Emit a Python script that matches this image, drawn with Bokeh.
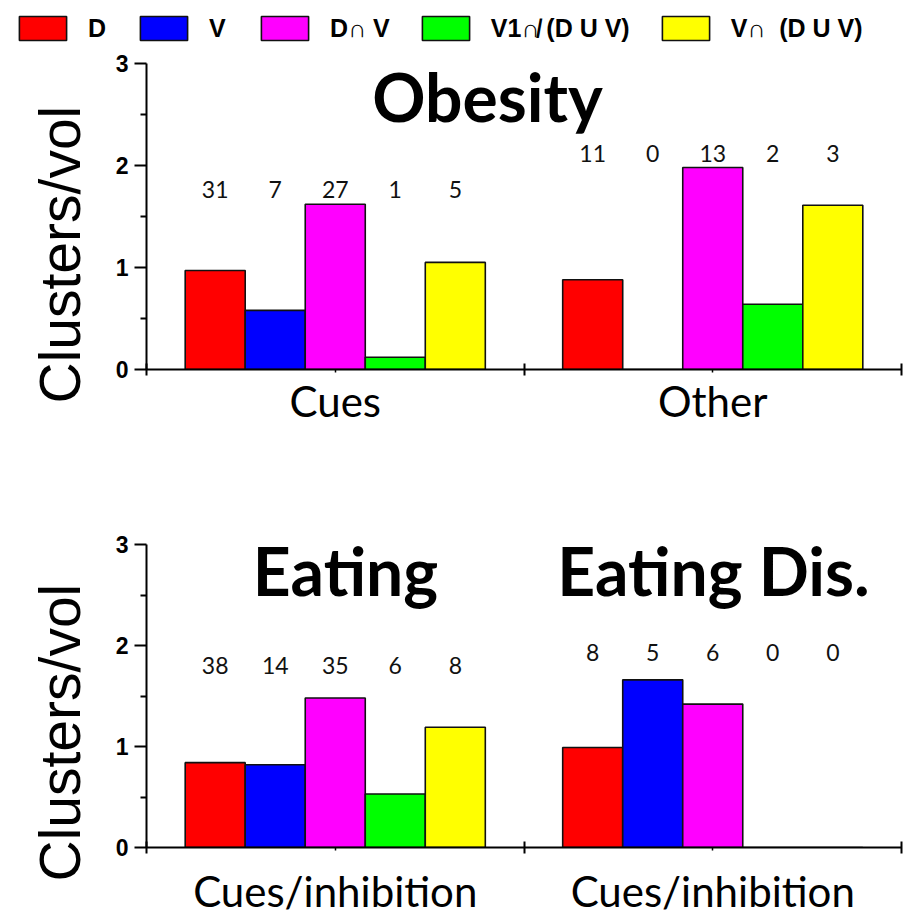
from bokeh.plotting import figure
from bokeh.models import Range1d, FixedTicker, Label, Legend, LegendItem, LinearAxis, Title
from bokeh.layouts import column
from bokeh.embed import file_html
from bokeh.resources import INLINE
from bokeh.core.properties import value

# ---------------- data ----------------
series_names = ["D", "V", "D\u2229 V", "V1\u2229\u0338 (D U V)", "V\u2229  (D U V)"]
series_colors = ["#FF0000", "#0000FF", "#FF00FF", "#00FF00", "#FFFF00"]

# top panel: Obesity
top_groups = ["Cues", "Other"]
top_D = [0.97, 0.88]
top_V = [0.58, 0.0]
top_DV = [1.62, 1.98]
top_V1 = [0.12, 0.64]
top_Vn = [1.05, 1.61]
top_n_D = [31, 11]
top_n_V = [7, 0]
top_n_DV = [27, 13]
top_n_V1 = [1, 2]
top_n_Vn = [5, 3]

# bottom panel: Eating / Eating Dis.
bot_groups = ["Cues/inhibition", "Cues/inhibition"]
bot_D = [0.84, 0.99]
bot_V = [0.82, 1.66]
bot_DV = [1.48, 1.42]
bot_V1 = [0.53, 0.0]
bot_Vn = [1.19, 0.0]
bot_n_D = [38, 8]
bot_n_V = [14, 5]
bot_n_DV = [35, 6]
bot_n_V1 = [6, 0]
bot_n_Vn = [8, 0]

y_ticks = [0, 1, 2, 3]
y_label = "Clusters/vol"

# ---------------- style ----------------
BAR_W = 0.159
NUM_FONT = "Lato"
FIG_W = 903
BAR_LINE = "#111111"


def bar_x(k, n):
    return [g + 0.5 + (k - 2) * BAR_W for g in range(n)]


def make_legend_fig(vals):
    # legend strip; swatches taken from the top-panel series renderers (hidden here)
    p = figure(width=FIG_W, height=44, x_range=Range1d(0, 2), y_range=Range1d(0, 3),
               output_backend="svg", toolbar_location=None, title=None,
               x_axis_type=None, y_axis_type=None,
               min_border_left=0, min_border_right=0, min_border_top=0, min_border_bottom=0)
    p.frame_align = False
    p.outline_line_color = None
    p.xgrid.visible = False
    p.ygrid.visible = False
    rs = []
    for k, (v, c) in enumerate(zip(vals, series_colors)):
        r = p.vbar(x=bar_x(k, len(v)), top=v, bottom=0, width=BAR_W, fill_color=c,
                   line_color=BAR_LINE, line_width=1.6)
        r.visible = False
        rs.append(r)
    items = [LegendItem(label=nm, renderers=[r]) for nm, r in zip(series_names, rs)]
    lg = Legend(items=items, orientation="horizontal", location=(13, 1),
                glyph_width=59, glyph_height=30, label_standoff=16, spacing=26,
                padding=0, margin=0, border_line_alpha=0, background_fill_alpha=0,
                inactive_fill_alpha=0,
                label_text_font="Liberation Sans", label_text_font_style="bold",
                label_text_font_size="25px", label_text_color="black")
    p.add_layout(lg)
    return p


def make_panel(groups, vals, counts, count_y, titles, height, b_top, b_bottom,
               group_standoff):
    p = figure(width=FIG_W, height=height, x_range=Range1d(0, 2), y_range=Range1d(0, 3),
               output_backend="svg", toolbar_location=None, title=None,
               x_axis_type=None, y_axis_type=None,
               min_border_left=146, min_border_right=2,
               min_border_top=b_top, min_border_bottom=b_bottom)
    p.outline_line_color = None
    p.xgrid.visible = False
    p.ygrid.visible = False

    yax = LinearAxis(ticker=FixedTicker(ticks=y_ticks, minor_ticks=[0.5, 1.5, 2.5]))
    yax.axis_line_width = 2
    yax.major_tick_line_width = 2
    yax.minor_tick_line_width = 2
    yax.major_tick_in = 0
    yax.major_tick_out = 12
    yax.minor_tick_in = 0
    yax.minor_tick_out = 6
    yax.major_label_standoff = 6
    yax.major_label_text_font = "Liberation Sans"
    yax.major_label_text_font_style = "bold"
    yax.major_label_text_font_size = "23px"
    yax.major_label_text_color = "black"
    p.add_layout(yax, "left")

    n = len(groups)
    centers = [g + 0.5 for g in range(n)]
    xax = LinearAxis(ticker=FixedTicker(ticks=centers, minor_ticks=list(range(n + 1))))
    xax.axis_line_width = 2
    xax.major_tick_line_width = 1.5
    xax.minor_tick_line_width = 2
    xax.major_tick_in = 0
    xax.major_tick_out = 3
    xax.minor_tick_in = 6
    xax.minor_tick_out = 6
    xax.major_label_overrides = {c: name for c, name in zip(centers, groups)}
    xax.major_label_standoff = group_standoff
    xax.major_label_text_font = NUM_FONT
    xax.major_label_text_font_size = "42px"
    xax.major_label_text_color = "black"
    p.add_layout(xax, "below")

    p.add_layout(Title(text=y_label, align="left", offset=-34, vertical_align="bottom",
                       standoff=42, text_font="Liberation Sans", text_font_style="normal",
                       text_font_size="57px", text_color="black"), "left")

    for k, (v, c) in enumerate(zip(vals, series_colors)):
        xs = bar_x(k, n)
        p.vbar(x=xs, top=v, width=BAR_W, bottom=0, fill_color=c,
               line_color=BAR_LINE, line_width=1.6)
        p.text(x=xs, y=count_y, text=[str(t) for t in counts[k]],
               text_font=value(NUM_FONT), text_font_size="23px",
               text_align="center", text_baseline="middle", text_color="#111111")

    for (tx, ty, t) in titles:
        p.add_layout(Label(x=tx, y=ty, x_units="screen", y_units="screen", text=t,
                           text_font=NUM_FONT, text_font_style="bold",
                           text_font_size="66px", text_align="center",
                           text_baseline="alphabetic", text_color="black"))
    return p


top_vals = [top_D, top_V, top_DV, top_V1, top_Vn]
legend_fig = make_legend_fig(top_vals)

top = make_panel(top_groups, top_vals,
                 [top_n_D, top_n_V, top_n_DV, top_n_V1, top_n_Vn],
                 [1.76, 2.12],
                 [(341, 273, "Obesity")],
                 428, 19, 103, 0)

bot = make_panel(bot_groups,
                 [bot_D, bot_V, bot_DV, bot_V1, bot_Vn],
                 [bot_n_D, bot_n_V, bot_n_DV, bot_n_V1, bot_n_Vn],
                 [1.80, 1.93],
                 [(199, 277, "Eating"), (567, 277, "Eating Dis.")],
                 447, 72, 72, 12)

layout = column(legend_fig, top, bot)
open("out.html", "w").write(file_html(layout, INLINE))
